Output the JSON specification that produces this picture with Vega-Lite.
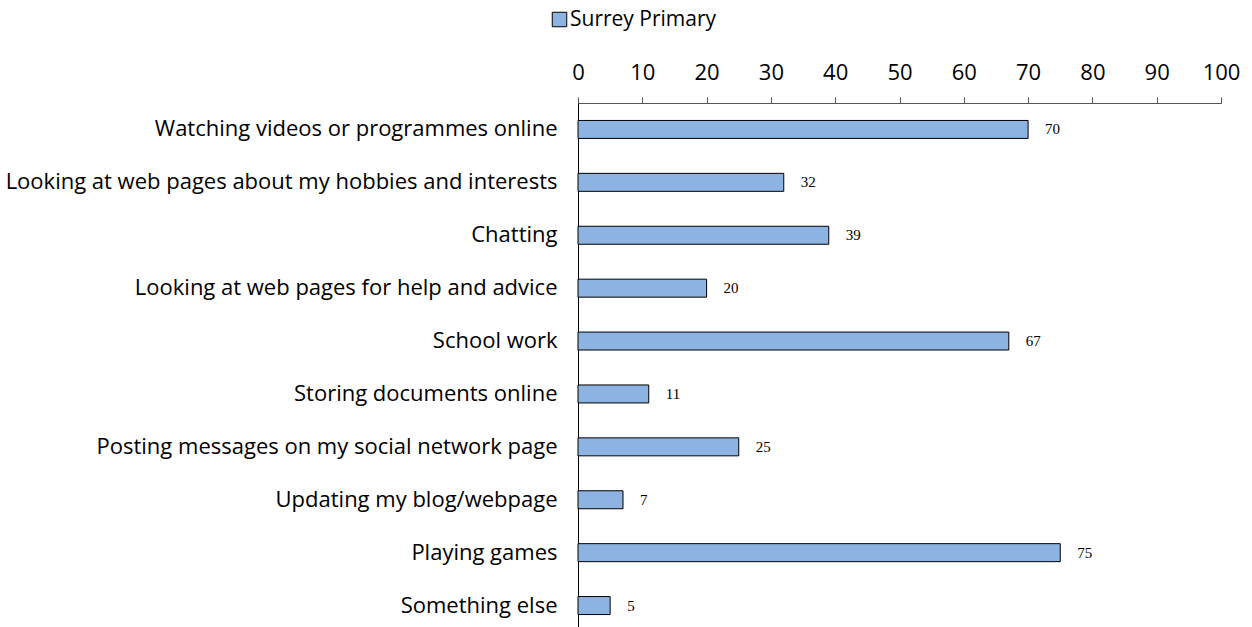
{
  "$schema": "https://vega.github.io/schema/vega-lite/v6.json",
  "width": 643,
  "height": 529,
  "autosize": {"type": "none"},
  "padding": {"left": 578, "top": 103, "right": 31, "bottom": 0},
  "background": "white",
  "config": {"view": {"stroke": null}, "font": "Open Sans"},
  "data": {
    "values": [
      {"activity": "Watching videos or programmes online", "value": 70, "series": "Surrey Primary"},
      {"activity": "Looking at web pages about my hobbies and interests", "value": 32, "series": "Surrey Primary"},
      {"activity": "Chatting", "value": 39, "series": "Surrey Primary"},
      {"activity": "Looking at web pages for help and advice", "value": 20, "series": "Surrey Primary"},
      {"activity": "School work", "value": 67, "series": "Surrey Primary"},
      {"activity": "Storing documents online", "value": 11, "series": "Surrey Primary"},
      {"activity": "Posting messages on my social network page", "value": 25, "series": "Surrey Primary"},
      {"activity": "Updating my blog/webpage", "value": 7, "series": "Surrey Primary"},
      {"activity": "Playing games", "value": 75, "series": "Surrey Primary"},
      {"activity": "Something else", "value": 5, "series": "Surrey Primary"}
    ]
  },
  "encoding": {
    "y": {
      "field": "activity",
      "type": "nominal",
      "sort": null,
      "scale": {"paddingInner": 0.66, "paddingOuter": 0.33},
      "axis": {
        "title": null,
        "orient": "left",
        "domain": true,
        "domainColor": "#000000",
        "ticks": false,
        "labelFont": "Open Sans",
        "labelFontSize": 22,
        "labelColor": "#000000",
        "labelPadding": 21,
        "labelLimit": 0
      }
    },
    "x": {
      "field": "value",
      "type": "quantitative",
      "scale": {"domain": [0, 100], "nice": false},
      "axis": {
        "title": null,
        "orient": "top",
        "values": [0, 10, 20, 30, 40, 50, 60, 70, 80, 90, 100],
        "grid": false,
        "domainColor": "#555555",
        "tickColor": "#555555",
        "tickSize": 6,
        "labelFlush": false,
        "labelOverlap": false,
        "labelFont": "Open Sans",
        "labelFontSize": 22,
        "labelColor": "#000000",
        "labelPadding": 13
      }
    }
  },
  "layer": [
    {
      "mark": {"type": "bar", "stroke": "#000000", "strokeWidth": 1},
      "encoding": {
        "color": {
          "field": "series",
          "type": "nominal",
          "scale": {"range": ["#8DB3E2"]},
          "legend": {
            "title": null,
            "orient": "none",
            "legendX": -29,
            "legendY": -94,
            "symbolType": "square",
            "symbolSize": 210,
            "symbolStrokeColor": "#000000",
            "symbolStrokeWidth": 1,
            "labelFont": "Open Sans",
            "labelFontSize": 21,
            "labelColor": "#000000",
            "labelOffset": 0
          }
        }
      }
    },
    {
      "mark": {"type": "text", "align": "left", "dx": 17, "font": "Liberation Serif", "fontSize": 15, "color": "#000000"},
      "encoding": {"text": {"field": "value", "type": "quantitative"}}
    }
  ]
}
